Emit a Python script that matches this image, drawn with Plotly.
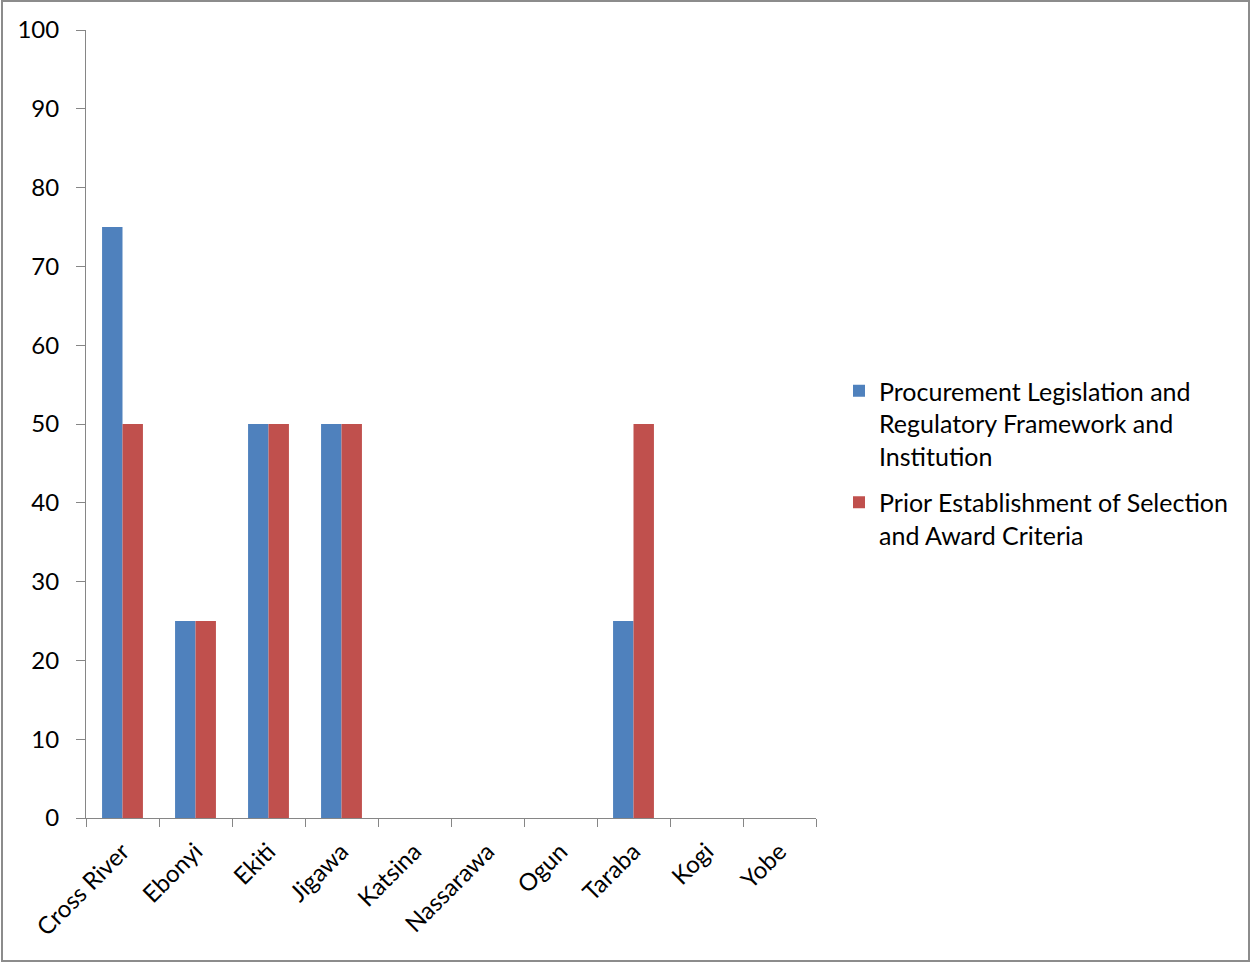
import plotly.graph_objects as go

states = ["Cross River", "Ebonyi", "Ekiti", "Jigawa", "Katsina",
          "Nassarawa", "Ogun", "Taraba", "Kogi", "Yobe"]
procurement_legislation = [75, 25, 50, 50, 0, 0, 0, 25, 0, 0]
selection_criteria = [50, 25, 50, 50, 0, 0, 0, 50, 0, 0]
y_ticks = [0, 10, 20, 30, 40, 50, 60, 70, 80, 90, 100]

W, H = 1251, 962
L, R, T, B = 86, 816, 30, 818
FONT = "Lato"
AXIS_GREY = "#868686"


def px_x(x):
    return (x - L) / (R - L)


def px_y(y):
    return (B - y) / (B - T)


fig = go.Figure()
fig.add_trace(go.Bar(
    x=states, y=procurement_legislation,
    name="Procurement Legislation and<br>Regulatory Framework and<br>Institution",
    legendgroup="legislation",
    marker=dict(color="#4F81BD", line=dict(width=0)),
))
fig.add_trace(go.Bar(
    x=states, y=selection_criteria,
    name="Prior Establishment of Selection<br>and Award Criteria",
    legendgroup="criteria",
    marker=dict(color="#C0504D", line=dict(width=0)),
))

fig.update_layout(
    width=W, height=H,
    margin=dict(l=L, r=W - R, t=T, b=H - B),
    paper_bgcolor="white", plot_bgcolor="white",
    barmode="group", bargap=0.44, bargroupgap=0,
    font=dict(family=FONT, size=24, color="#000000"),
    showlegend=True,
    legend=dict(
        x=px_x(839), y=px_y(368), xanchor="left", yanchor="top",
        valign="top", tracegroupgap=11,
        font=dict(family=FONT, size=25, color="#000000"),
        bgcolor="rgba(0,0,0,0)",
    ),
    xaxis=dict(
        type="category", range=[-0.5, 9.5],
        tickangle=-45, tickson="boundaries",
        ticks="outside", ticklen=8, tickcolor=AXIS_GREY,
        ticklabelstandoff=9,
        showline=True, linecolor=AXIS_GREY, linewidth=1,
        showgrid=False, zeroline=False,
        tickfont=dict(family=FONT, size=24, color="#000000"),
    ),
    yaxis=dict(
        range=[0, 100], tickvals=y_ticks,
        ticks="outside", ticklen=9, tickcolor=AXIS_GREY,
        ticklabelstandoff=12,
        showline=True, linecolor=AXIS_GREY, linewidth=1,
        showgrid=False, zeroline=False,
        tickfont=dict(family=FONT, size=24, color="#000000"),
    ),
    shapes=[dict(
        type="rect", xref="paper", yref="paper",
        x0=px_x(2), x1=px_x(1249), y0=px_y(961), y1=px_y(1),
        line=dict(color="#8C8C8C", width=2), fillcolor="rgba(0,0,0,0)",
        layer="below",
    )],
)

fig.write_html("out.html")
